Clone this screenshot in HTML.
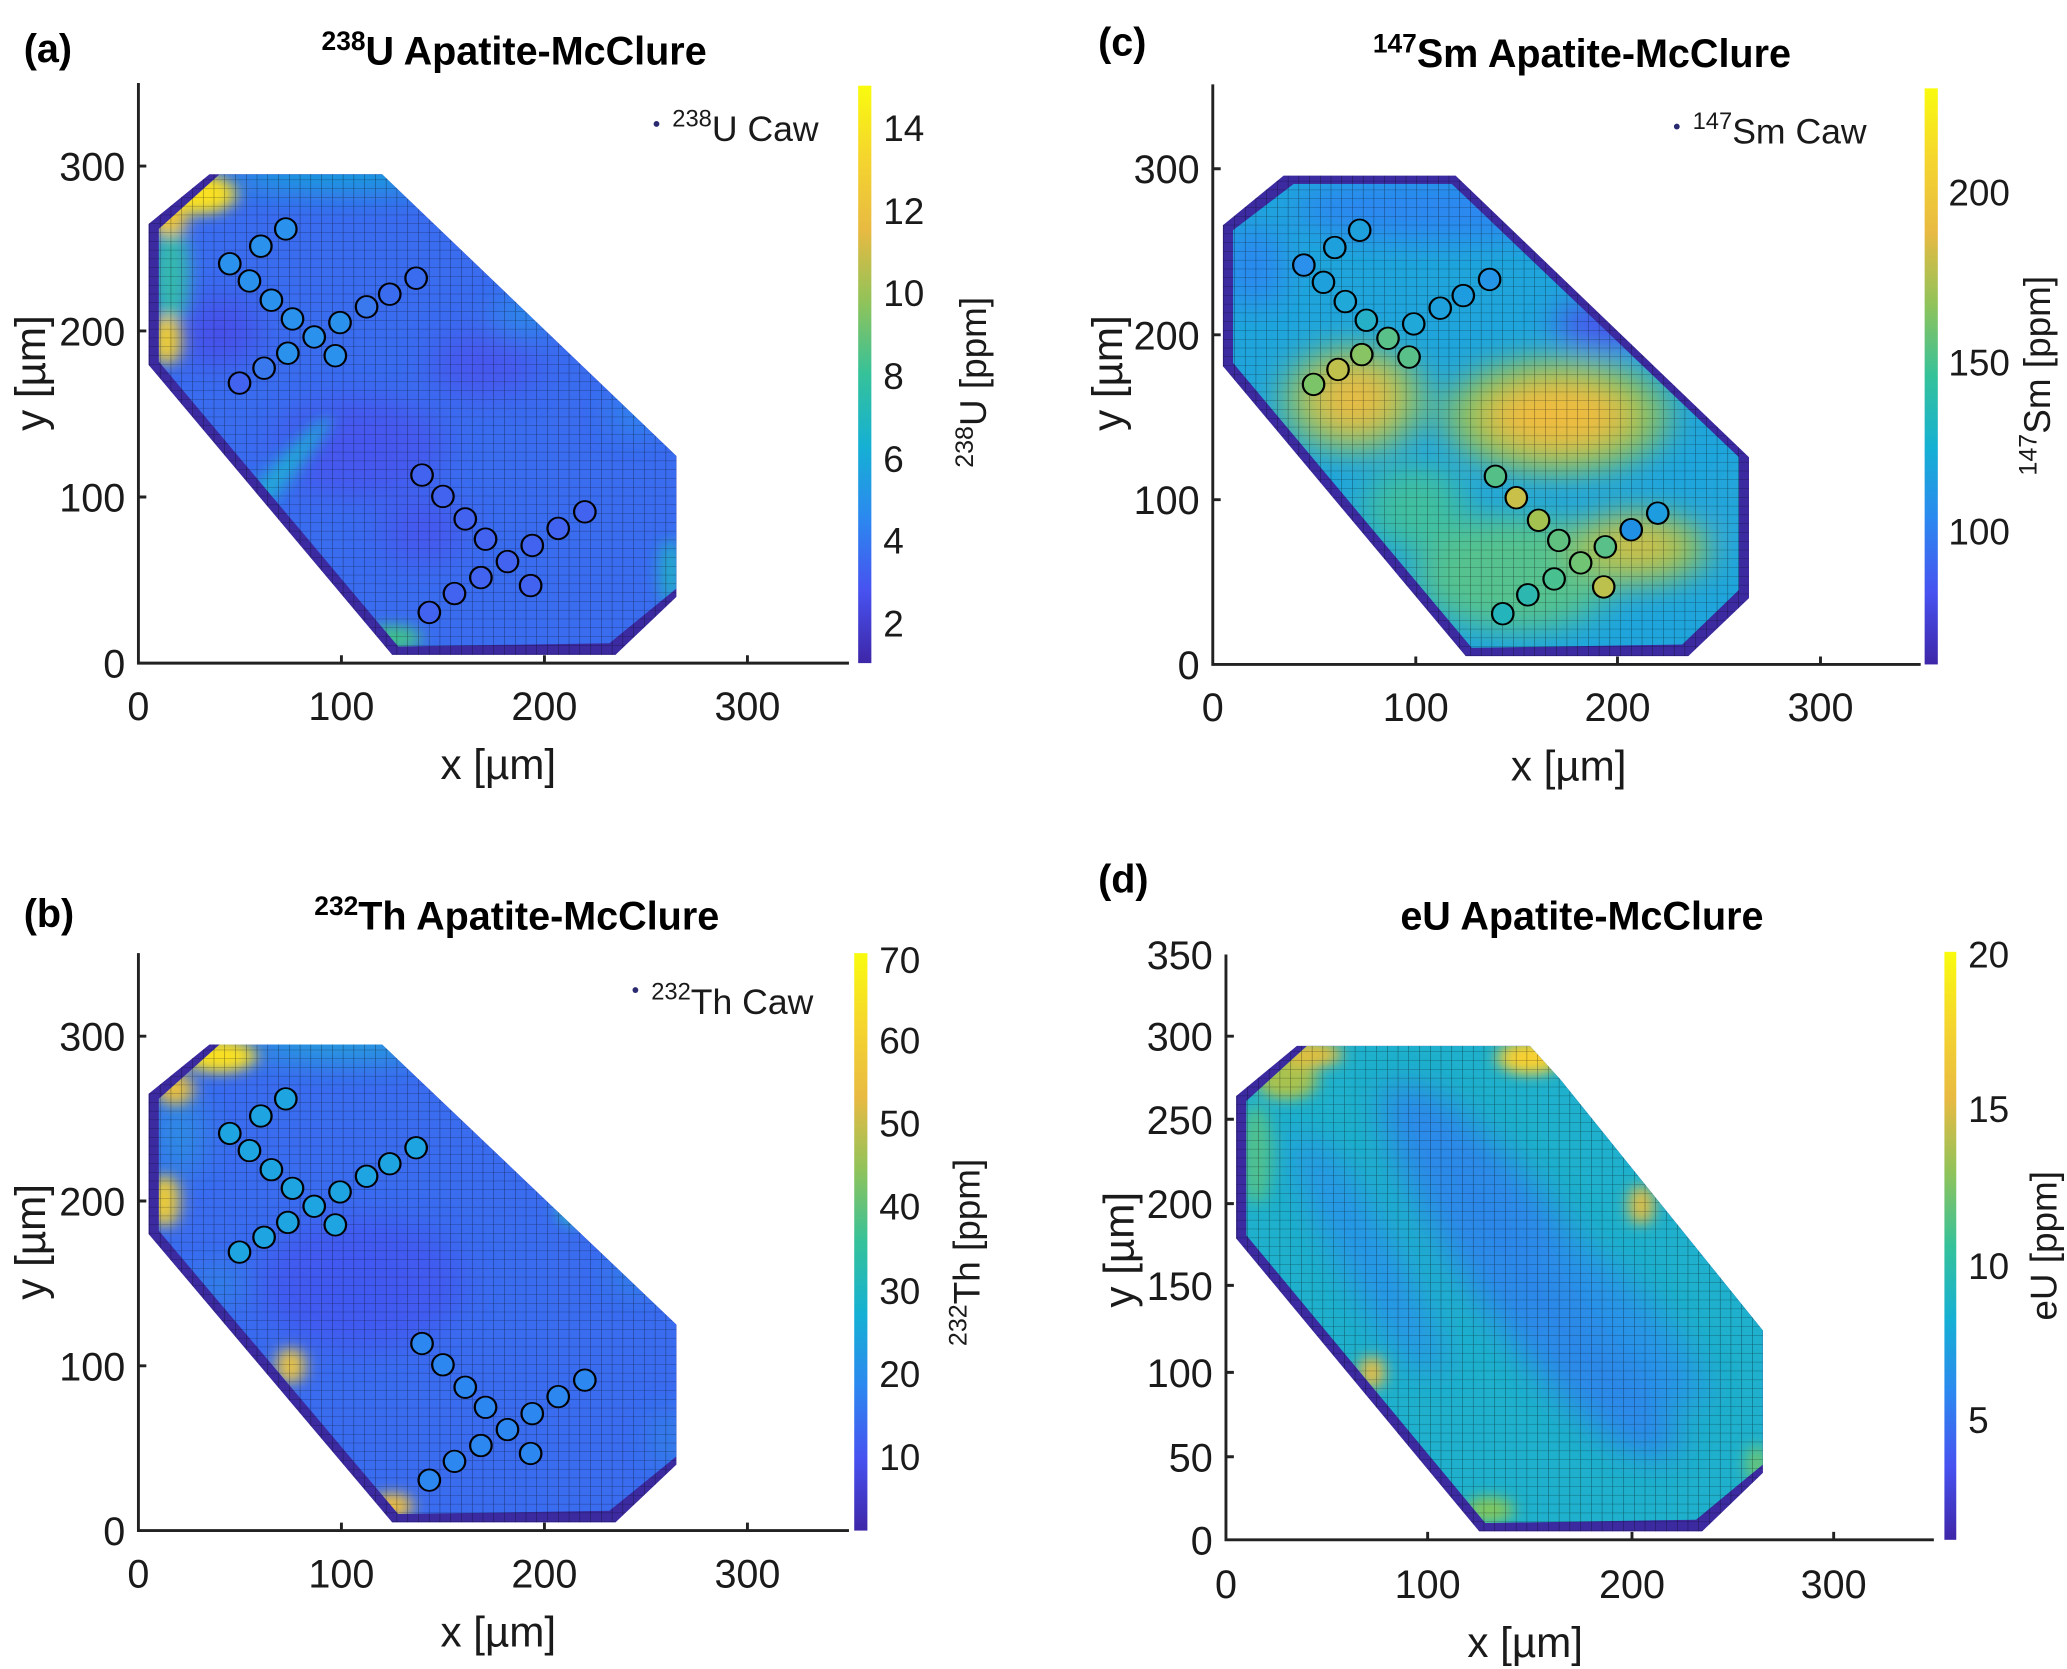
<!DOCTYPE html>
<html><head><meta charset="utf-8"><style>
html,body{margin:0;padding:0;background:#fff;}
svg{display:block}
text{font-family:"Liberation Sans",Arial,sans-serif;fill:#1a1a1a}
.tk{font-size:30px}
.lb{font-size:32px}
.tt{font-size:30px;font-weight:bold;fill:#000}
.pl{font-size:30px;font-weight:bold;fill:#000}
.cb{font-size:28px}
.lg{font-size:27px}
</style></head><body>
<svg width="2067" height="1669" viewBox="0 0 1568 1266" preserveAspectRatio="none" xmlns="http://www.w3.org/2000/svg">
<defs>
<linearGradient id="par" x1="0" y1="1" x2="0" y2="0">
<stop offset="0" stop-color="#3e26a8"/><stop offset="0.125" stop-color="#4752f0"/><stop offset="0.25" stop-color="#2c88f0"/><stop offset="0.375" stop-color="#15b0d4"/><stop offset="0.5" stop-color="#35c29a"/><stop offset="0.625" stop-color="#90c35a"/><stop offset="0.75" stop-color="#e8ba42"/><stop offset="0.875" stop-color="#f5d52e"/><stop offset="1" stop-color="#f9fb0e"/>
</linearGradient>
<pattern id="grid" patternUnits="userSpaceOnUse" width="5.3" height="5.3">
<path d="M0 0H5.3M0 0V5.3" stroke="#000" stroke-opacity="0.5" stroke-width="0.5" fill="none"/>
</pattern>
<filter id="bl" filterUnits="userSpaceOnUse" x="-60" y="-60" width="420" height="420"><feGaussianBlur stdDeviation="9"/></filter>
<filter id="bs" filterUnits="userSpaceOnUse" x="-60" y="-60" width="420" height="420"><feGaussianBlur stdDeviation="4"/></filter>
<clipPath id="cpA" clipPathUnits="userSpaceOnUse"><polygon points="40,295 120,295 265,125 265,45 232,12 128,10 10,182 10,262"/></clipPath>
<clipPath id="cpC" clipPathUnits="userSpaceOnUse"><polygon points="40,290 118,290 260,125 260,45 232,12 128,10 10,182 10,262"/></clipPath>
<clipPath id="cpD" clipPathUnits="userSpaceOnUse"><polygon points="40,295 150,295 165,275 265,125 265,45 232,12 128,10 10,182 10,262"/></clipPath>
</defs>

<!-- ============ PANEL A ============ -->
<g transform="translate(105,503) scale(1.54,-1.257)">
<polygon points="35,295 120,295 265,125 265,40 235,5 125,5 5,180 5,265" fill="#3b2aa0"/>
<g clip-path="url(#cpA)">
<rect x="0" y="0" width="280" height="300" fill="#3a6cf0"/>
<g filter="url(#bl)" opacity="0.9">
<ellipse cx="40" cy="200" rx="18" ry="20" fill="#4a4ee8"/>
<ellipse cx="110" cy="130" rx="40" ry="30" fill="#4656ee"/>
<ellipse cx="170" cy="180" rx="25" ry="20" fill="#4a56ee"/>
<ellipse cx="140" cy="80" rx="20" ry="20" fill="#4656ee"/>
<ellipse cx="100" cy="295" rx="55" ry="10" fill="#18a8d8"/>
<ellipse cx="190" cy="210" rx="12" ry="12" fill="#2595e8" transform="rotate(-50,190,210)"/>
<ellipse cx="245" cy="150" rx="10" ry="12" fill="#2a90ec"/>
</g>
<g filter="url(#bs)">
<ellipse cx="16" cy="235" rx="9" ry="32" fill="#35b8b0"/>
<ellipse cx="60" cy="100" rx="6" ry="60" fill="#20a8d8" transform="rotate(-35,60,100)"/>
<ellipse cx="125" cy="15" rx="14" ry="8" fill="#40c090"/>
<ellipse cx="262" cy="55" rx="5" ry="20" fill="#20b0c8"/>
<ellipse cx="30" cy="283" rx="18" ry="12" fill="#f9e020"/>
<ellipse cx="15" cy="268" rx="9" ry="10" fill="#f0c838"/>
<ellipse cx="14" cy="195" rx="7" ry="15" fill="#f4d030"/>
</g>
</g>
<polygon points="35,295 120,295 265,125 265,40 235,5 125,5 5,180 5,265" fill="url(#grid)"/>
<g stroke="#000" stroke-width="1.1" fill="#2a92ec">
<ellipse cx="72.6" cy="262" rx="5.3" ry="6.5"/><ellipse cx="60.3" cy="251.6" rx="5.3" ry="6.5"/><ellipse cx="45" cy="241" rx="5.3" ry="6.5"/><ellipse cx="54.7" cy="230.6" rx="5.3" ry="6.5"/><ellipse cx="65.5" cy="219" rx="5.3" ry="6.5"/><ellipse cx="75.9" cy="207.7" rx="5.3" ry="6.5"/><ellipse cx="86.6" cy="196.8" rx="5.3" ry="6.5"/><ellipse cx="97" cy="185.5" rx="5.3" ry="6.5"/><ellipse cx="99.3" cy="205.5" rx="5.3" ry="6.5"/><ellipse cx="112.4" cy="215" rx="5.3" ry="6.5" fill="#3a78ee"/><ellipse cx="123.8" cy="222.6" rx="5.3" ry="6.5" fill="#3a6cf0"/><ellipse cx="136.8" cy="232.3" rx="5.3" ry="6.5" fill="#3a6cf0"/><ellipse cx="73.6" cy="187" rx="5.3" ry="6.5"/><ellipse cx="61.9" cy="178" rx="5.3" ry="6.5" fill="#3a78ee"/><ellipse cx="49.8" cy="169" rx="5.3" ry="6.5" fill="#4262f0"/>
</g>
<g stroke="#000" stroke-width="1.1" fill="#4262f0">
<ellipse cx="139.7" cy="113.5" rx="5.3" ry="6.5"/><ellipse cx="150" cy="100.6" rx="5.3" ry="6.5"/><ellipse cx="161" cy="87" rx="5.3" ry="6.5"/><ellipse cx="171" cy="74.8" rx="5.3" ry="6.5"/><ellipse cx="181.8" cy="61.3" rx="5.3" ry="6.5"/><ellipse cx="194" cy="71" rx="5.3" ry="6.5"/><ellipse cx="206.8" cy="81.3" rx="5.3" ry="6.5"/><ellipse cx="219.9" cy="91.3" rx="5.3" ry="6.5"/><ellipse cx="168.7" cy="51.6" rx="5.3" ry="6.5"/><ellipse cx="155.7" cy="42" rx="5.3" ry="6.5"/><ellipse cx="143.3" cy="30.6" rx="5.3" ry="6.5"/><ellipse cx="193.2" cy="46.8" rx="5.3" ry="6.5"/>
</g>
</g>
<g stroke="#222" stroke-width="2.2" fill="none">
<path d="M105,63 V503 H644"/>
<path d="M259,503v-6M413,503v-6M567,503v-6M105,377h6M105,251h6M105,126h6"/>
</g>
<g class="tk" text-anchor="end"><text x="95" y="514">0</text><text x="95" y="388">100</text><text x="95" y="262">200</text><text x="95" y="137">300</text></g>
<g class="tk" text-anchor="middle"><text x="105" y="546">0</text><text x="259" y="546">100</text><text x="413" y="546">200</text><text x="567" y="546">300</text></g>
<text class="lb" x="378" y="591" text-anchor="middle">x [µm]</text>
<text class="lb" transform="translate(34,283) rotate(-90)" text-anchor="middle">y [µm]</text>
<text class="pl" x="18" y="47">(a)</text>
<text class="tt" x="390" y="49" text-anchor="middle"><tspan font-size="20" dy="-11">238</tspan><tspan dy="11">U Apatite-McClure</tspan></text>
<rect x="651" y="65" width="10" height="438" fill="url(#par)"/>
<g class="cb"><text x="670" y="107">14</text><text x="670" y="170">12</text><text x="670" y="232">10</text><text x="670" y="295">8</text><text x="670" y="358">6</text><text x="670" y="420">4</text><text x="670" y="483">2</text></g>
<text class="cb" transform="translate(748,290) rotate(-90)" text-anchor="middle"><tspan font-size="19" dy="-10">238</tspan><tspan dy="10">U [ppm]</tspan></text>
<circle cx="498" cy="94" r="2.2" fill="#2a2a70"/>
<text class="lg" x="510" y="107"><tspan font-size="18" dy="-11">238</tspan><tspan dy="11">U Caw</tspan></text>

<!-- ============ PANEL C ============ -->
<g transform="translate(920,504) scale(1.535,-1.257)">
<polygon points="35,295 120,295 265,125 265,40 235,5 125,5 5,180 5,265" fill="#3b2aa0"/>
<g clip-path="url(#cpC)">
<rect x="0" y="0" width="280" height="300" fill="#1fa5dc"/>
<g filter="url(#bl)">
<ellipse cx="110" cy="275" rx="70" ry="20" fill="#2c88f0"/>
<ellipse cx="195" cy="205" rx="25" ry="15" fill="#4656ee"/>
<ellipse cx="20" cy="240" rx="15" ry="25" fill="#2c88f0"/>
<ellipse cx="150" cy="55" rx="50" ry="35" fill="#55c290"/>
<ellipse cx="170" cy="150" rx="55" ry="35" fill="#90c35a"/>
<ellipse cx="170" cy="150" rx="35" ry="20" fill="#eebc40"/>
<ellipse cx="70" cy="160" rx="35" ry="32" fill="#8cc460"/>
<ellipse cx="70" cy="160" rx="20" ry="20" fill="#e6bc44"/>
<ellipse cx="210" cy="70" rx="35" ry="22" fill="#90c35a"/>
<ellipse cx="210" cy="72" rx="20" ry="12" fill="#d0c04c"/>
<ellipse cx="100" cy="95" rx="25" ry="25" fill="#40bfa0"/>
<ellipse cx="262" cy="100" rx="8" ry="25" fill="#25a5d8"/>
</g>
</g>
<polygon points="35,295 120,295 265,125 265,40 235,5 125,5 5,180 5,265" fill="url(#grid)"/>
<g stroke="#000" stroke-width="1.1">
<ellipse cx="72.6" cy="262" rx="5.3" ry="6.5" fill="#1ea0dc"/><ellipse cx="60.3" cy="251.6" rx="5.3" ry="6.5" fill="#1ea0dc"/><ellipse cx="45" cy="241" rx="5.3" ry="6.5" fill="#2a90ec"/><ellipse cx="54.7" cy="230.6" rx="5.3" ry="6.5" fill="#1ea0dc"/><ellipse cx="65.5" cy="219" rx="5.3" ry="6.5" fill="#20a8d8"/><ellipse cx="75.9" cy="207.7" rx="5.3" ry="6.5" fill="#25b0c8"/><ellipse cx="86.6" cy="196.8" rx="5.3" ry="6.5" fill="#58c088"/><ellipse cx="97" cy="185.5" rx="5.3" ry="6.5" fill="#58c088"/><ellipse cx="99.3" cy="205.5" rx="5.3" ry="6.5" fill="#20a8d8"/><ellipse cx="112.4" cy="215" rx="5.3" ry="6.5" fill="#1ea0dc"/><ellipse cx="123.8" cy="222.6" rx="5.3" ry="6.5" fill="#1e9ce0"/><ellipse cx="136.8" cy="232.3" rx="5.3" ry="6.5" fill="#2494e6"/><ellipse cx="73.6" cy="187" rx="5.3" ry="6.5" fill="#88c464"/><ellipse cx="61.9" cy="178" rx="5.3" ry="6.5" fill="#c0c04c"/><ellipse cx="49.8" cy="169" rx="5.3" ry="6.5" fill="#7cc468"/>
<ellipse cx="139.7" cy="113.5" rx="5.3" ry="6.5" fill="#54c088"/><ellipse cx="150" cy="100.6" rx="5.3" ry="6.5" fill="#c8c048"/><ellipse cx="161" cy="87" rx="5.3" ry="6.5" fill="#a4c250"/><ellipse cx="171" cy="74.8" rx="5.3" ry="6.5" fill="#60c080"/><ellipse cx="181.8" cy="61.3" rx="5.3" ry="6.5" fill="#70c474"/><ellipse cx="194" cy="71" rx="5.3" ry="6.5" fill="#58c088"/><ellipse cx="206.8" cy="81.3" rx="5.3" ry="6.5" fill="#2090e4"/><ellipse cx="219.9" cy="91.3" rx="5.3" ry="6.5" fill="#1e9ce0"/><ellipse cx="168.7" cy="51.6" rx="5.3" ry="6.5" fill="#48c090"/><ellipse cx="155.7" cy="42" rx="5.3" ry="6.5" fill="#2cb8b0"/><ellipse cx="143.3" cy="30.6" rx="5.3" ry="6.5" fill="#24b4bc"/><ellipse cx="193.2" cy="46.8" rx="5.3" ry="6.5" fill="#bcc04c"/>
</g>
</g>
<g stroke="#222" stroke-width="2.2" fill="none">
<path d="M920,64 V504 H1457"/>
<path d="M1074,504v-6M1227,504v-6M1381,504v-6M920,379h6M920,254h6M920,128h6"/>
</g>
<g class="tk" text-anchor="end"><text x="910" y="515">0</text><text x="910" y="390">100</text><text x="910" y="265">200</text><text x="910" y="139">300</text></g>
<g class="tk" text-anchor="middle"><text x="920" y="547">0</text><text x="1074" y="547">100</text><text x="1227" y="547">200</text><text x="1381" y="547">300</text></g>
<text class="lb" x="1190" y="592" text-anchor="middle">x [µm]</text>
<text class="lb" transform="translate(851,283) rotate(-90)" text-anchor="middle">y [µm]</text>
<text class="pl" x="833" y="42">(c)</text>
<text class="tt" x="1200" y="51" text-anchor="middle"><tspan font-size="20" dy="-11">147</tspan><tspan dy="11">Sm Apatite-McClure</tspan></text>
<rect x="1460" y="67" width="10" height="437" fill="url(#par)"/>
<g class="cb"><text x="1478" y="156">200</text><text x="1478" y="285">150</text><text x="1478" y="413">100</text></g>
<text class="cb" transform="translate(1555,285) rotate(-90)" text-anchor="middle"><tspan font-size="19" dy="-10">147</tspan><tspan dy="10">Sm [ppm]</tspan></text>
<circle cx="1272" cy="96" r="2.2" fill="#2a2a70"/>
<text class="lg" x="1284" y="109"><tspan font-size="18" dy="-11">147</tspan><tspan dy="11">Sm Caw</tspan></text>

<!-- ============ PANEL B ============ -->
<g transform="translate(105,1161) scale(1.54,-1.25)">
<polygon points="35,295 120,295 265,125 265,40 235,5 125,5 5,180 5,265" fill="#3b2aa0"/>
<g clip-path="url(#cpA)">
<rect x="0" y="0" width="280" height="300" fill="#3a6cf0"/>
<g filter="url(#bl)" opacity="0.9">
<ellipse cx="110" cy="150" rx="50" ry="40" fill="#4258f0"/>
<ellipse cx="100" cy="295" rx="45" ry="10" fill="#20a8d8"/>
<ellipse cx="20" cy="240" rx="10" ry="25" fill="#2a98e0"/>
<ellipse cx="245" cy="155" rx="8" ry="10" fill="#2598e0"/>
<ellipse cx="40" cy="150" rx="8" ry="10" fill="#2a98e0"/>
<ellipse cx="262" cy="55" rx="5" ry="18" fill="#2598e0"/>
</g>
<g filter="url(#bs)">
<ellipse cx="215" cy="195" rx="8" ry="10" fill="#25b8c0"/>
<ellipse cx="40" cy="288" rx="18" ry="10" fill="#f9e020"/>
<ellipse cx="18" cy="268" rx="9" ry="10" fill="#e8c040"/>
<ellipse cx="13" cy="200" rx="7" ry="16" fill="#f4d030"/>
<ellipse cx="75" cy="100" rx="7" ry="11" fill="#f0c840"/>
<ellipse cx="125" cy="15" rx="10" ry="8" fill="#f0c040"/>
</g>
</g>
<polygon points="35,295 120,295 265,125 265,40 235,5 125,5 5,180 5,265" fill="url(#grid)"/>
<g stroke="#000" stroke-width="1.1" fill="#1ea4e0">
<ellipse cx="72.6" cy="262" rx="5.3" ry="6.5"/><ellipse cx="60.3" cy="251.6" rx="5.3" ry="6.5"/><ellipse cx="45" cy="241" rx="5.3" ry="6.5"/><ellipse cx="54.7" cy="230.6" rx="5.3" ry="6.5"/><ellipse cx="65.5" cy="219" rx="5.3" ry="6.5"/><ellipse cx="75.9" cy="207.7" rx="5.3" ry="6.5"/><ellipse cx="86.6" cy="196.8" rx="5.3" ry="6.5"/><ellipse cx="97" cy="185.5" rx="5.3" ry="6.5"/><ellipse cx="99.3" cy="205.5" rx="5.3" ry="6.5"/><ellipse cx="112.4" cy="215" rx="5.3" ry="6.5"/><ellipse cx="123.8" cy="222.6" rx="5.3" ry="6.5"/><ellipse cx="136.8" cy="232.3" rx="5.3" ry="6.5"/><ellipse cx="73.6" cy="187" rx="5.3" ry="6.5"/><ellipse cx="61.9" cy="178" rx="5.3" ry="6.5"/><ellipse cx="49.8" cy="169" rx="5.3" ry="6.5"/>
</g>
<g stroke="#000" stroke-width="1.1" fill="#2c88f0">
<ellipse cx="139.7" cy="113.5" rx="5.3" ry="6.5"/><ellipse cx="150" cy="100.6" rx="5.3" ry="6.5"/><ellipse cx="161" cy="87" rx="5.3" ry="6.5"/><ellipse cx="171" cy="74.8" rx="5.3" ry="6.5"/><ellipse cx="181.8" cy="61.3" rx="5.3" ry="6.5"/><ellipse cx="194" cy="71" rx="5.3" ry="6.5"/><ellipse cx="206.8" cy="81.3" rx="5.3" ry="6.5"/><ellipse cx="219.9" cy="91.3" rx="5.3" ry="6.5"/><ellipse cx="168.7" cy="51.6" rx="5.3" ry="6.5"/><ellipse cx="155.7" cy="42" rx="5.3" ry="6.5"/><ellipse cx="143.3" cy="30.6" rx="5.3" ry="6.5"/><ellipse cx="193.2" cy="46.8" rx="5.3" ry="6.5"/>
</g>
</g>
<g stroke="#222" stroke-width="2.2" fill="none">
<path d="M105,723 V1161 H644"/>
<path d="M259,1161v-6M413,1161v-6M567,1161v-6M105,1036h6M105,911h6M105,786h6"/>
</g>
<g class="tk" text-anchor="end"><text x="95" y="1172">0</text><text x="95" y="1047">100</text><text x="95" y="922">200</text><text x="95" y="797">300</text></g>
<g class="tk" text-anchor="middle"><text x="105" y="1204">0</text><text x="259" y="1204">100</text><text x="413" y="1204">200</text><text x="567" y="1204">300</text></g>
<text class="lb" x="378" y="1249" text-anchor="middle">x [µm]</text>
<text class="lb" transform="translate(34,942) rotate(-90)" text-anchor="middle">y [µm]</text>
<text class="pl" x="18" y="703">(b)</text>
<text class="tt" x="392" y="705" text-anchor="middle"><tspan font-size="20" dy="-11">232</tspan><tspan dy="11">Th Apatite-McClure</tspan></text>
<rect x="648" y="723" width="10" height="438" fill="url(#par)"/>
<g class="cb"><text x="667" y="738">70</text><text x="667" y="799">60</text><text x="667" y="862">50</text><text x="667" y="925">40</text><text x="667" y="989">30</text><text x="667" y="1052">20</text><text x="667" y="1115">10</text></g>
<text class="cb" transform="translate(743,950) rotate(-90)" text-anchor="middle"><tspan font-size="19" dy="-10">232</tspan><tspan dy="10">Th [ppm]</tspan></text>
<circle cx="482" cy="751" r="2.2" fill="#2a2a70"/>
<text class="lg" x="494" y="769"><tspan font-size="18" dy="-11">232</tspan><tspan dy="11">Th Caw</tspan></text>

<!-- ============ PANEL D ============ -->
<g transform="translate(930,1168) scale(1.537,-1.27)">
<polygon points="35,295 150,295 165,275 265,125 265,40 235,5 125,5 5,180 5,265" fill="#3b2aa0"/>
<g clip-path="url(#cpD)">
<rect x="0" y="0" width="280" height="300" fill="#1eb0cc"/>
<g filter="url(#bl)" opacity="0.85">
<ellipse cx="150" cy="160" rx="130" ry="30" fill="#2f82ee" transform="rotate(-59,150,160)"/>
<ellipse cx="70" cy="170" rx="80" ry="14" fill="#2c90ec" transform="rotate(-65,70,170)"/>
<ellipse cx="200" cy="130" rx="60" ry="14" fill="#2c90ec" transform="rotate(-55,200,130)"/>
</g>
<g filter="url(#bs)">
<ellipse cx="15" cy="230" rx="8" ry="30" fill="#50c090"/>
<ellipse cx="30" cy="275" rx="15" ry="12" fill="#a8c250"/>
<ellipse cx="42" cy="290" rx="15" ry="8" fill="#e0c040"/>
<ellipse cx="150" cy="288" rx="16" ry="10" fill="#f8d030"/>
<ellipse cx="205" cy="200" rx="6" ry="12" fill="#e8c040"/>
<ellipse cx="72" cy="100" rx="6" ry="10" fill="#f0c040"/>
<ellipse cx="130" cy="18" rx="12" ry="8" fill="#80c860"/>
<ellipse cx="262" cy="45" rx="5" ry="12" fill="#70c870"/>
</g>
</g>
<polygon points="35,295 150,295 165,275 265,125 265,40 235,5 125,5 5,180 5,265" fill="url(#grid)"/>
</g>
<g stroke="#222" stroke-width="2.2" fill="none">
<path d="M930,724 V1168 H1467"/>
<path d="M1083,1168v-6M1238,1168v-6M1391,1168v-6M930,1105h6M930,1041h6M930,975h6M930,913h6M930,849h6M930,786h6"/>
</g>
<g class="tk" text-anchor="end"><text x="920" y="1179">0</text><text x="920" y="1116">50</text><text x="920" y="1052">100</text><text x="920" y="986">150</text><text x="920" y="924">200</text><text x="920" y="860">250</text><text x="920" y="797">300</text><text x="920" y="735">350</text></g>
<g class="tk" text-anchor="middle"><text x="930" y="1212">0</text><text x="1083" y="1212">100</text><text x="1238" y="1212">200</text><text x="1391" y="1212">300</text></g>
<text class="lb" x="1157" y="1257" text-anchor="middle">x [µm]</text>
<text class="lb" transform="translate(860,948) rotate(-90)" text-anchor="middle">y [µm]</text>
<text class="pl" x="833" y="677">(d)</text>
<text class="tt" x="1200" y="705" text-anchor="middle">eU Apatite-McClure</text>
<rect x="1475" y="722" width="9" height="446" fill="url(#par)"/>
<g class="cb"><text x="1493" y="734">20</text><text x="1493" y="851">15</text><text x="1493" y="970">10</text><text x="1493" y="1087">5</text></g>
<text class="cb" transform="translate(1560,945) rotate(-90)" text-anchor="middle">eU [ppm]</text>
</svg>
</body></html>
